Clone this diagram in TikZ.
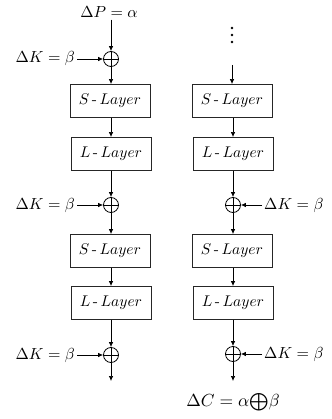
\documentclass[tikz,border=0pt]{standalone}
\usepackage{graphicx}
\usetikzlibrary{arrows.meta}
\newcommand{\lyr}[1]{\scalebox{1.55}{$#1\mbox{\,-\,}Layer$}}
\newcommand{\mylbl}[1]{\scalebox{1.6}{$#1$}}
\begin{document}
\begin{tikzpicture}[x=1pt,y=-1pt,
  lay/.style={draw=black!85,line width=0.9pt,minimum width=80pt,minimum height=33pt,inner sep=0pt},
  xorn/.style={draw,circle,line width=0.8pt,minimum size=15pt,inner sep=0pt,
    path picture={\draw[line width=0.8pt] (path picture bounding box.north) -- (path picture bounding box.south)
      (path picture bounding box.west) -- (path picture bounding box.east);}},
  lbl/.style={inner sep=2pt},
  dotn/.style={circle,fill,inner sep=0pt,minimum size=2.6pt},
  arr/.style={-{Latex[length=5pt,width=4.5pt]},line width=0.7pt}]
\useasboundingbox (0,0) rectangle (331,419);
% left column
\node[lbl] (dp) at (109,12) {\mylbl{\Delta P=\alpha}};
\node[xorn] (x1) at (111,59) {};
\node[lbl,anchor=east] (k1) at (77,59) {\mylbl{\Delta K=\beta}};
\node[lay] (s1) at (110,101) {\lyr{S}};
\node[lay] (l1) at (111,154) {\lyr{L}};
\node[xorn] (x2) at (111,205) {};
\node[lbl,anchor=east] (k2) at (77,205) {\mylbl{\Delta K=\beta}};
\node[lay] (s2) at (110,251) {\lyr{S}};
\node[lay] (l2) at (111,303) {\lyr{L}};
\node[xorn] (x3) at (111,355) {};
\node[lbl,anchor=east] (k3) at (77,355) {\mylbl{\Delta K=\beta}};
\coordinate (e1) at (111,381);
\draw[arr] (dp.south -| x1) -- (x1);
\draw[arr] (k1) -- (x1);
\draw[arr] (x1) -- (x1 |- s1.north);
\draw[arr] (s1.south -| x1) -- (l1.north -| x1);
\draw[arr] (l1.south -| x1) -- (x2);
\draw[arr] (k2) -- (x2);
\draw[arr] (x2) -- (x2 |- s2.north);
\draw[arr] (s2.south -| x2) -- (l2.north -| x2);
\draw[arr] (l2.south -| x2) -- (x3);
\draw[arr] (k3) -- (x3);
\draw[arr] (x3) -- (e1);
% right column
\node[dotn] (d1) at (232,28) {};
\node[dotn] (d2) at (232,35) {};
\node[dotn] (d3) at (232,42) {};
\coordinate (st) at (232,65);
\node[lay] (rs1) at (232,101) {\lyr{S}};
\node[lay] (rl1) at (233,154) {\lyr{L}};
\node[xorn] (rx2) at (233,205) {};
\node[lbl,anchor=west] (rk2) at (262,205) {\mylbl{\Delta K=\beta}};
\node[lay] (rs2) at (232,251) {\lyr{S}};
\node[lay] (rl2) at (233,303) {\lyr{L}};
\node[xorn] (rx3) at (233,354) {};
\node[lbl,anchor=west] (rk3) at (262,354) {\mylbl{\Delta K=\beta}};
\coordinate (e2) at (233,381);
\node[lbl] (dc) at (233,402) {\scalebox{1.75}{$\Delta C=\alpha\mathord{\textstyle\bigoplus}\beta$}};
\draw[arr] (st) -- (st |- rs1.north);
\draw[arr] (rs1.south -| rx2) -- (rl1.north -| rx2);
\draw[arr] (rl1.south -| rx2) -- (rx2);
\draw[arr] (rk2) -- (rx2);
\draw[arr] (rx2) -- (rx2 |- rs2.north);
\draw[arr] (rs2.south -| rx2) -- (rl2.north -| rx2);
\draw[arr] (rl2.south -| rx3) -- (rx3);
\draw[arr] (rk3) -- (rx3);
\draw[arr] (rx3) -- (e2);
\end{tikzpicture}
\end{document}
